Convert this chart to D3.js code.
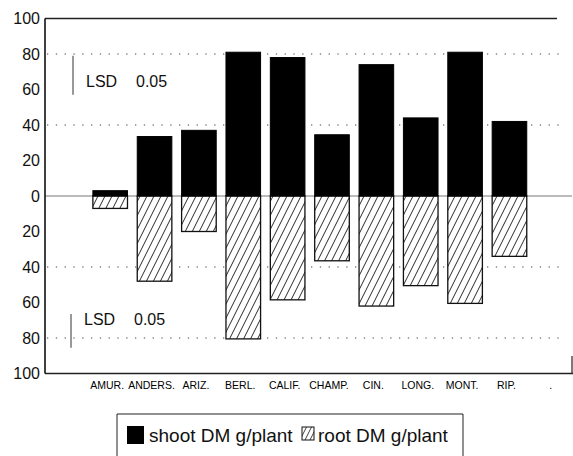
<!DOCTYPE html>
<html>
<head>
<meta charset="utf-8">
<script src="https://cdn.jsdelivr.net/npm/d3@7"></script>
<style>
  html, body { margin: 0; padding: 0; background: #fff; }
  svg { display: block; font-family: "Liberation Sans", Arial, sans-serif; }
</style>
</head>
<body>
<svg id="chart" width="573" height="456"></svg>
<script>
// ---- data ----
const categories = ["AMUR.", "ANDERS.", "ARIZ.", "BERL.", "CALIF.", "CHAMP.", "CIN.", "LONG.", "MONT.", "RIP.", "."];
const shootDM = [3, 33.5, 37, 81, 78, 34.5, 74, 44, 81, 42, null];
const rootDM  = [7, 48, 20, 80.5, 58.5, 36.5, 62, 50.5, 60.5, 34, null];
const yTickValues = [100, 80, 60, 40, 20, 0, -20, -40, -60, -80, -100];
const gridValues = [80, 40, -40, -80];
const seriesNames = ["shoot DM g/plant", "root DM g/plant"];
const lsdLabel = ["LSD", "0.05"];

const svg = d3.select("#chart");

const x = d3.scaleBand().domain(categories).range([88, 576]).paddingInner(0.22).paddingOuter(0.11);
const y = d3.scaleLinear().domain([-100, 100]).range([373.5, 18.5]);
const left = 45;

// hatch pattern
const defs = svg.append("defs");
const pat = defs.append("pattern").attr("id", "hatch").attr("patternUnits", "userSpaceOnUse")
  .attr("width", 7).attr("height", 14);
pat.append("rect").attr("width", 7).attr("height", 14).attr("fill", "#fff");
pat.append("path").attr("d", "M0,14 L7,0 M-1,2 L1,-2 M6,16 L8,12")
  .attr("stroke", "#111").attr("stroke-width", 0.9).attr("fill", "none");

const patS = defs.append("pattern").attr("id", "hatchS").attr("patternUnits", "userSpaceOnUse")
  .attr("width", 5).attr("height", 10);
patS.append("rect").attr("width", 5).attr("height", 10).attr("fill", "#fff");
patS.append("path").attr("d", "M0,10 L5,0 M-1,2 L1,-2 M4,12 L6,8")
  .attr("stroke", "#111").attr("stroke-width", 0.8).attr("fill", "none");

// gridlines
svg.append("g").selectAll("line").data(gridValues).join("line")
  .attr("x1", left + 2).attr("x2", 566)
  .attr("y1", d => y(d)).attr("y2", d => y(d))
  .attr("stroke", "#444").attr("stroke-width", 1).attr("stroke-dasharray", "1.3,7.5");

// zero line
svg.append("line").attr("x1", left).attr("x2", 572).attr("y1", y(0)).attr("y2", y(0))
  .attr("stroke", "#777").attr("stroke-width", 1);

// frame lines
svg.append("line").attr("x1", left).attr("x2", 557).attr("y1", y(100)).attr("y2", y(100))
  .attr("stroke", "#222").attr("stroke-width", 1.3);
svg.append("line").attr("x1", left).attr("x2", 573).attr("y1", y(-100)).attr("y2", y(-100))
  .attr("stroke", "#222").attr("stroke-width", 1.3);
svg.append("line").attr("x1", left).attr("x2", left).attr("y1", y(100)).attr("y2", y(-100))
  .attr("stroke", "#111").attr("stroke-width", 1.6);
svg.append("line").attr("x1", 572).attr("x2", 572).attr("y1", 356).attr("y2", y(-100))
  .attr("stroke", "#222").attr("stroke-width", 1.2);

// y labels
svg.append("g").selectAll("text").data(yTickValues).join("text")
  .attr("x", 40).attr("y", d => y(d)).attr("dy", "0.36em")
  .attr("text-anchor", "end").attr("font-size", 16).attr("fill", "#111")
  .text(d => Math.abs(d));

// bars
const idx = d3.range(categories.length).filter(i => shootDM[i] != null);
svg.append("g").selectAll("rect").data(idx).join("rect")
  .attr("x", i => x(categories[i])).attr("width", x.bandwidth())
  .attr("y", y(0)).attr("height", i => y(-rootDM[i]) - y(0))
  .attr("fill", "url(#hatch)").attr("stroke", "#111").attr("stroke-width", 1.3);
svg.append("g").selectAll("rect").data(idx).join("rect")
  .attr("x", i => x(categories[i])).attr("width", x.bandwidth())
  .attr("y", i => y(shootDM[i])).attr("height", i => y(0) - y(shootDM[i]))
  .attr("fill", "#000").attr("stroke", "#000").attr("stroke-width", 1);

// x labels
svg.append("g").selectAll("text").data(categories).join("text")
  .attr("x", d => x(d) + x.bandwidth() / 2 - 3).attr("y", 389)
  .attr("text-anchor", "middle").attr("font-size", 10.5).attr("fill", "#000")
  .text(d => d);

// LSD markers
const lsd = [{v: 68, h: 22, xl: 73, xt: 86, yb: 87}, {v: -76, h: 19, xl: 71, xt: 84, yb: 325}];
lsd.forEach(o => {
  svg.append("line").attr("x1", o.xl).attr("x2", o.xl)
    .attr("y1", y(o.v + o.h / 2)).attr("y2", y(o.v - o.h / 2))
    .attr("stroke", "#333").attr("stroke-width", 1);
  svg.append("text").attr("x", o.xt).attr("y", o.yb).attr("font-size", 16).attr("fill", "#111").text(lsdLabel[0]);
  svg.append("text").attr("x", o.xt + 50).attr("y", o.yb).attr("font-size", 16).attr("fill", "#111").text(lsdLabel[1]);
});

// legend
const lg = svg.append("g");
lg.append("path").attr("d", "M117,456 L117,414 L463,414 L463,456")
  .attr("fill", "none").attr("stroke", "#222").attr("stroke-width", 1);
lg.append("rect").attr("x", 127).attr("y", 426).attr("width", 17).attr("height", 18).attr("fill", "#000");
lg.append("text").attr("x", 149).attr("y", 442).attr("font-size", 19).attr("fill", "#111").text(seriesNames[0]);
lg.append("rect").attr("x", 302).attr("y", 427).attr("width", 12).attr("height", 13)
  .attr("fill", "url(#hatchS)").attr("stroke", "#111").attr("stroke-width", 1);
lg.append("text").attr("x", 318).attr("y", 442).attr("font-size", 19).attr("fill", "#111").text(seriesNames[1]);
</script>
</body>
</html>
